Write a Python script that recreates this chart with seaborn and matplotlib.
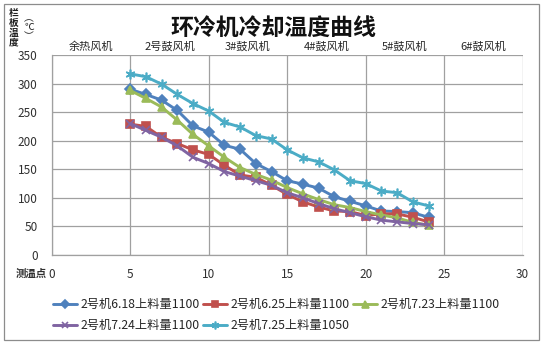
import matplotlib
matplotlib.use("Agg")
import matplotlib.pyplot as plt
import seaborn as sns
import pandas as pd
from matplotlib.patches import Rectangle

# measuring points along the cooler
points = list(range(5, 25))

temp_618 = [290, 281, 271, 253, 226, 215, 192, 185, 160, 146, 130, 124, 117, 102, 94, 86, 77, 76, 74, 66]
temp_625 = [229, 225, 206, 195, 184, 176, 157, 140, 136, 122, 106, 93, 84, 77, 76, 69, 72, 72, 66, 58]
temp_723 = [288, 274, 259, 236, 211, 191, 171, 153, 141, 131, 118, 107, 97, 88, 83, 76, 70, 65, 57, 52]
temp_724 = [230, 218, 206, 191, 171, 160, 146, 138, 130, 122, 109, 100, 90, 81, 74, 67, 61, 58, 55, 53]
temp_725 = [317, 312, 299, 281, 265, 252, 232, 224, 209, 203, 184, 170, 163, 149, 130, 125, 112, 109, 93, 86]

series_names = ["2号机6.18上料量1100", "2号机6.25上料量1100", "2号机7.23上料量1100",
                "2号机7.24上料量1100", "2号机7.25上料量1050"]
series_values = [temp_618, temp_625, temp_723, temp_724, temp_725]

fan_labels = ["余热风机", "2号鼓风机", "3#鼓风机", "4#鼓风机", "5#鼓风机", "6#鼓风机"]
x_ticks = [0, 5, 10, 15, 20, 25, 30]
y_ticks = [0, 50, 100, 150, 200, 250, 300, 350]

colors = ["#4F81BD", "#C0504D", "#9BBB59", "#8064A2", "#4BACC6"]
markers = ["D", "s", "^", "x", (6, 2, 0)]
msizes = [4.8, 5.8, 6.3, 5.5, 7]

sns.set_theme(style="white")
plt.rcParams["font.family"] = ["Noto Sans CJK SC", "DejaVu Sans"]

W, H = 548, 343
fig = plt.figure(figsize=(W / 100, H / 100), dpi=100)
ax = fig.add_axes([51.7 / W, 1 - 255 / H, (522.7 - 51.7) / W, 200 / H])

df = pd.DataFrame({
    "point": points * len(series_names),
    "temp": [v for vals in series_values for v in vals],
    "series": [n for n in series_names for _ in points],
})

for name, col, mk, ms in zip(series_names, colors, markers, msizes):
    sub = df[df["series"] == name]
    sns.lineplot(data=sub, x="point", y="temp", ax=ax, color=col, linewidth=2.1,
                 marker=mk, markersize=ms, markeredgecolor=col, markerfacecolor=col,
                 markeredgewidth=1.2, label=name, legend=False)

ax.set_xlim(0, 30)
ax.set_ylim(0, 350)
ax.set_xticks(x_ticks)
ax.set_yticks(y_ticks)
ax.set_xlabel("")
ax.set_ylabel("")
ax.grid(True, color="#A0A0A0", linewidth=0.9)
ax.set_axisbelow(True)
for s in ["top", "right"]:
    ax.spines[s].set_visible(False)
for s in ["left", "bottom"]:
    ax.spines[s].set_color("#A0A0A0")
    ax.spines[s].set_linewidth(0.9)
ax.tick_params(axis="both", length=0, labelsize=8.5, labelcolor="#303030")
ax.tick_params(axis="y", pad=10)
ax.tick_params(axis="x", pad=9)

# fan zones above the plot
for i, lab in enumerate(fan_labels):
    fig.text((51.7 + 15.7 * (2.5 + 5 * i)) / W, 1 - 46.7 / H, lab, ha="center",
             va="center", fontsize=8, color="#262626")

fig.text(273 / W, 1 - 28 / H, "环冷机冷却温度曲线", ha="center", va="center",
         fontsize=16.5, fontweight="bold", color="#111111")

# vertical axis caption, one character per line
for ch, yy in zip("栏板温度", [12.7, 22.7, 33, 42.7]):
    fig.text(14 / W, 1 - yy / H, ch, ha="center", va="center",
             fontsize=7, fontweight="bold", color="#202020")
for ch, yy in zip(["︵", "℃", "︶"], [18, 27, 36]):
    fig.text(29 / W, 1 - yy / H, ch, ha="center", va="center",
             fontsize=7, color="#202020")
fig.text(31 / W, 1 - 274 / H, "测温点", ha="center", va="center",
         fontsize=7.5, fontweight="bold", color="#303030")

# legend filled row by row (3 per row)
handles, labels = ax.get_legend_handles_labels()
order = [0, 3, 1, 4, 2]
fig.legend([handles[i] for i in order], [labels[i] for i in order],
           loc="upper left", bbox_to_anchor=(53 / W, 1 - 298 / H),
           ncol=3, frameon=False, fontsize=8.8, handlelength=2.0, handletextpad=0.27,
           columnspacing=0.25, borderpad=0, borderaxespad=0, labelspacing=0.65,
           markerscale=0.8)

fig.patches.append(Rectangle((4 / W, 3 / H), 535 / W, 336 / H,
                             transform=fig.transFigure, fill=False,
                             edgecolor="#8C8C8C", linewidth=0.9))

fig.savefig("out.png", dpi=100, facecolor="white")
